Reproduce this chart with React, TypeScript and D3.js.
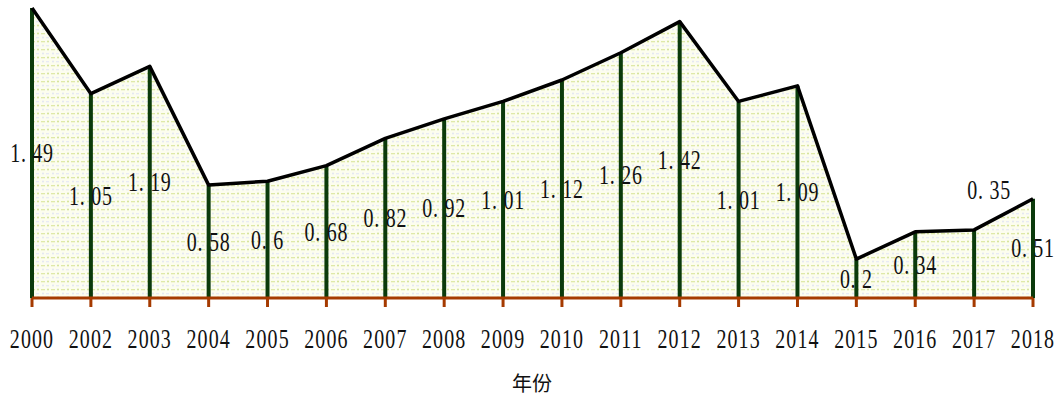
import React from "react";
import * as d3 from "d3";

const years = ["2000","2002","2003","2004","2005","2006","2007","2008","2009","2010","2011","2012","2013","2014","2015","2016","2017","2018"];
const values = [1.49,1.05,1.19,0.58,0.6,0.68,0.82,0.92,1.01,1.12,1.26,1.42,1.01,1.09,0.2,0.34,0.35,0.51];
const xTitle = "年份";

const W = 1061, H = 401;

export default function App() {
  const x = d3.scalePoint<string>().domain(years).range([32, 1033]);
  const y = d3.scaleLinear().domain([0, 1.49]).range([298, 8]);
  const data = years.map((yr, i) => ({ yr, v: values[i] }));
  const area = d3.area<{ yr: string; v: number }>()
    .x(d => x(d.yr)!)
    .y0(y(0))
    .y1(d => y(d.v));
  const line = d3.line<{ yr: string; v: number }>()
    .x(d => x(d.yr)!)
    .y(d => y(d.v));
  const fmt = (v: number) => String(v).replace(".", ". ");
  const font = "'Liberation Serif', 'DejaVu Serif', serif";
  return (
    <svg width={W} height={H} style={{ position: "absolute", left: 0, top: 0 }}>
      <defs>
        <pattern id="dots" width="10" height="8" patternUnits="userSpaceOnUse">
          <rect width="10" height="8" fill="#fcfdef" />
          <rect x="1" y="1" width="4" height="1.3" fill="#dfe9a8" />
          <circle cx="8" cy="1.6" r="1" fill="#d3e296" />
          <rect x="6" y="5" width="3" height="1.3" fill="#e8eaf5" />
          <circle cx="3" cy="5.6" r="1" fill="#e2e5f2" />
        </pattern>
      </defs>
      <path d={area(data)!} fill="url(#dots)" />
      {data.map(d => (
        <line key={"v" + d.yr} x1={x(d.yr)} x2={x(d.yr)} y1={y(0)} y2={y(d.v)}
          stroke="#0b3a0b" strokeWidth={4} />
      ))}
      <path d={line(data)!} fill="none" stroke="#000" strokeWidth={3.5} strokeLinejoin="round" />
      <line x1={x(years[0])} x2={x(years[years.length - 1])} y1={y(0)} y2={y(0)}
        stroke="#a53a00" strokeWidth={3} />
      {years.map(yr => (
        <line key={"t" + yr} x1={x(yr)} x2={x(yr)} y1={y(0)} y2={y(0) + 9}
          stroke="#a53a00" strokeWidth={3} />
      ))}
      {years.map(yr => (
        <text key={"l" + yr} transform={`translate(${x(yr)},348) scale(0.74,1)`}
          textAnchor="middle" fontFamily={font} fontSize={27} letterSpacing={1.5} fill="#111">{yr}</text>
      ))}
      {data.map((d, i) => {
        const special = i === 16;
        const lx = x(d.yr)! + (special ? 15 : 0);
        const ly = special ? y(d.v) - 40 : (y(0) + y(d.v)) / 2;
        return (
          <text key={"d" + d.yr} transform={`translate(${lx},${ly + 9}) scale(0.74,1)`}
            textAnchor="middle" fontFamily={font} fontSize={27} letterSpacing={1} fill="#111">{fmt(d.v)}</text>
        );
      })}
      <text x={532} y={391} textAnchor="middle" fontFamily="'Noto Sans CJK SC', sans-serif"
        fontSize={20} fill="#111">{xTitle}</text>
    </svg>
  );
}
